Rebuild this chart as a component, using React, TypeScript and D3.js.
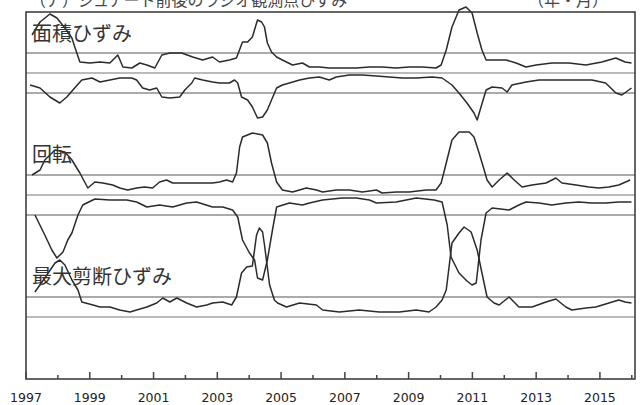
import React from "react";
import * as d3 from "d3";

// ---- data: [decimal year, value] (value unit = spacing of reference lines) ----
const areaUpper: [number, number][] = [
  [1997.19, 1.9], [1997.44, 2.55], [1997.75, 2.95], [1997.97, 2.75], [1998.22, 2.25], [1998.44, 1.75],
  [1998.53, 1.3], [1998.69, 0.55], [1999.0, 0.5], [1999.32, 0.55], [1999.63, 0.5], [1999.88, 0.9],
  [2000.04, 0.3], [2000.32, 0.25], [2000.57, 0.5], [2000.79, 0.4], [2001.04, 0.25], [2001.26, 0.9],
  [2001.51, 1.0], [2001.88, 1.0], [2002.23, 0.8], [2002.54, 0.65], [2002.85, 0.8], [2003.07, 0.55],
  [2003.38, 0.65], [2003.6, 0.75], [2003.79, 1.55], [2003.95, 1.55], [2004.1, 1.8], [2004.26, 2.65],
  [2004.39, 2.55], [2004.48, 2.3], [2004.57, 1.5], [2004.7, 1.05], [2004.86, 0.8], [2005.04, 0.65],
  [2005.36, 0.4], [2005.67, 0.5], [2005.89, 0.3], [2006.2, 0.3], [2006.51, 0.25], [2006.92, 0.25],
  [2007.36, 0.25], [2007.77, 0.3], [2008.17, 0.3], [2008.61, 0.25], [2009.02, 0.3], [2009.43, 0.3],
  [2009.86, 0.25], [2010.02, 0.4], [2010.18, 1.15], [2010.36, 2.3], [2010.58, 3.15], [2010.8, 3.3],
  [2010.99, 3.0], [2011.15, 2.0], [2011.3, 1.15], [2011.43, 0.65], [2011.74, 0.65], [2012.06, 0.65],
  [2012.37, 0.5], [2012.68, 0.3], [2013.0, 0.4], [2013.49, 0.5], [2014.03, 0.5], [2014.56, 0.4],
  [2015.06, 0.55], [2015.5, 0.75], [2015.79, 0.55], [2015.99, 0.5],
];

const areaLower: [number, number][] = [
  [1997.13, -0.6], [1997.44, -0.75], [1997.75, -1.2], [1998.06, -1.5], [1998.28, -1.2], [1998.47, -0.85],
  [1998.75, -0.35], [1999.07, -0.25], [1999.32, -0.45], [1999.63, -0.35], [1999.94, -0.25], [2000.32, -0.25],
  [2000.47, -0.35], [2000.66, -0.75], [2000.88, -0.85], [2001.1, -0.75], [2001.26, -1.2], [2001.51, -1.25],
  [2001.82, -1.2], [2001.98, -0.85], [2002.2, -0.5], [2002.29, -0.25], [2002.54, -0.35], [2002.85, -0.45],
  [2003.07, -0.5], [2003.38, -0.5], [2003.54, -0.35], [2003.64, -0.5], [2003.76, -1.2], [2003.95, -1.35],
  [2004.1, -1.7], [2004.26, -2.25], [2004.42, -2.2], [2004.57, -1.85], [2004.7, -1.35], [2004.86, -0.75],
  [2005.04, -0.6], [2005.26, -0.5], [2005.58, -0.35], [2005.89, -0.25], [2006.2, -0.2], [2006.51, -0.35],
  [2006.73, -0.2], [2007.14, -0.1], [2007.55, -0.1], [2007.99, -0.15], [2008.39, -0.2], [2008.8, -0.25],
  [2009.24, -0.25], [2009.74, -0.2], [2010.05, -0.25], [2010.36, -0.6], [2010.58, -1.0], [2010.83, -1.5],
  [2011.05, -2.0], [2011.15, -2.35], [2011.27, -1.7], [2011.43, -0.85], [2011.62, -0.7], [2011.93, -0.75],
  [2012.09, -0.95], [2012.24, -0.6], [2012.68, -0.45], [2013.09, -0.35], [2013.71, -0.35], [2014.34, -0.35],
  [2014.75, -0.35], [2015.18, -0.5], [2015.5, -1.0], [2015.69, -1.1], [2015.99, -0.75],
];

const rotUpper: [number, number][] = [
  [1997.19, 1.0], [1997.44, 1.25], [1997.59, 1.75], [1997.91, 2.25], [1998.22, 2.15], [1998.44, 1.75],
  [1998.69, 1.1], [1998.94, 0.35], [1999.16, 0.65], [1999.41, 0.6], [1999.72, 0.5], [1999.94, 0.35],
  [2000.19, 0.25], [2000.47, 0.35], [2000.72, 0.4], [2000.97, 0.35], [2001.19, 0.65], [2001.41, 0.75],
  [2001.6, 0.6], [2001.91, 0.6], [2002.23, 0.6], [2002.54, 0.6], [2002.85, 0.6], [2003.07, 0.65],
  [2003.29, 0.75], [2003.48, 0.65], [2003.6, 1.1], [2003.7, 2.4], [2003.79, 2.9], [2004.1, 3.1],
  [2004.42, 3.0], [2004.57, 2.6], [2004.7, 1.6], [2004.86, 0.65], [2005.04, 0.25], [2005.36, 0.15],
  [2005.79, 0.35], [2006.11, 0.25], [2006.3, 0.15], [2006.73, 0.25], [2007.14, 0.25], [2007.55, 0.15],
  [2007.99, 0.25], [2008.17, 0.1], [2008.61, 0.15], [2009.02, 0.15], [2009.55, 0.25], [2009.86, 0.25],
  [2010.02, 0.6], [2010.18, 1.6], [2010.36, 2.75], [2010.58, 3.15], [2010.9, 3.15], [2011.05, 2.9],
  [2011.21, 2.1], [2011.37, 1.25], [2011.46, 0.75], [2011.62, 0.4], [2011.84, 0.75], [2012.09, 1.1],
  [2012.31, 0.75], [2012.56, 0.4], [2012.87, 0.5], [2013.31, 0.6], [2013.62, 0.85], [2013.81, 0.6],
  [2014.25, 0.5], [2014.65, 0.4], [2014.97, 0.35], [2015.28, 0.4], [2015.59, 0.5], [2015.95, 0.75],
];

const rotLower: [number, number][] = [
  [1997.28, -1.0], [1997.59, -2.0], [1997.81, -2.75], [1997.97, -3.15], [1998.16, -2.85], [1998.31, -2.25],
  [1998.44, -1.9], [1998.63, -1.0], [1998.78, -0.5], [1999.16, -0.2], [1999.63, -0.25], [2000.16, -0.25],
  [2000.47, -0.35], [2000.79, -0.6], [2001.19, -0.5], [2001.6, -0.6], [2002.04, -0.4], [2002.35, -0.35],
  [2002.85, -0.6], [2003.17, -0.6], [2003.48, -0.75], [2003.64, -1.1], [2003.79, -2.25], [2004.01, -2.9],
  [2004.17, -3.25], [2004.26, -4.15], [2004.42, -4.25], [2004.57, -3.25], [2004.73, -1.75], [2004.86, -0.6],
  [2005.26, -0.4], [2005.67, -0.5], [2005.89, -0.4], [2006.3, -0.25], [2006.92, -0.15], [2007.36, -0.15],
  [2007.77, -0.25], [2007.99, -0.4], [2008.61, -0.35], [2009.24, -0.15], [2009.8, -0.25], [2010.05, -0.35],
  [2010.21, -1.5], [2010.33, -3.1], [2010.58, -3.9], [2010.83, -4.3], [2010.99, -4.5], [2011.12, -4.4],
  [2011.27, -2.25], [2011.43, -0.9], [2011.62, -0.65], [2012.15, -0.75], [2012.46, -0.5], [2012.68, -0.35],
  [2013.09, -0.4], [2013.49, -0.5], [2013.93, -0.4], [2014.34, -0.35], [2014.75, -0.4], [2015.18, -0.4],
  [2015.59, -0.35], [2015.99, -0.35],
];

const shearMax: [number, number][] = [
  [1997.28, 1.25], [1997.59, 1.95], [1997.91, 2.7], [1998.06, 2.85], [1998.22, 2.6], [1998.44, 1.85],
  [1998.63, 1.35], [1998.75, 0.75], [1999.1, 0.6], [1999.32, 0.5], [1999.63, 0.5], [1999.94, 0.35],
  [2000.26, 0.25], [2000.47, 0.35], [2000.79, 0.5], [2001.1, 0.7], [2001.29, 0.95], [2001.51, 0.75],
  [2001.73, 0.95], [2002.04, 0.7], [2002.35, 0.5], [2002.67, 0.6], [2002.85, 0.7], [2003.17, 0.75],
  [2003.45, 0.6], [2003.6, 1.0], [2003.76, 2.2], [2003.92, 2.5], [2004.1, 2.55], [2004.23, 4.1],
  [2004.32, 4.45], [2004.42, 4.25], [2004.48, 3.6], [2004.64, 1.6], [2004.79, 0.85], [2004.89, 0.7],
  [2005.17, 0.5], [2005.58, 0.7], [2006.11, 0.6], [2006.3, 0.35], [2006.83, 0.25], [2007.45, 0.35],
  [2008.08, 0.25], [2008.71, 0.25], [2009.24, 0.35], [2009.64, 0.25], [2009.86, 0.5], [2010.05, 0.85],
  [2010.18, 1.35], [2010.36, 3.7], [2010.58, 4.2], [2010.74, 4.5], [2010.96, 4.25], [2011.15, 3.35],
  [2011.3, 2.2], [2011.46, 1.0], [2011.68, 0.7], [2011.84, 0.6], [2012.15, 1.0], [2012.46, 0.5],
  [2012.87, 0.5], [2013.31, 0.75], [2013.62, 0.9], [2013.93, 0.5], [2014.12, 0.35], [2014.56, 0.45],
  [2014.87, 0.5], [2015.18, 0.65], [2015.59, 0.85], [2015.79, 0.75], [2015.99, 0.7],
];

const panelLabels = ["面積ひずみ", "回転", "最大剪断ひずみ"];
const tickYears = d3.range(1997, 2017);
const labelYears = d3.range(1997, 2016, 2);
const titleText = "（ア）ジュアート前後のラジオ観測点ひずみ";
const titleText2 = "（年・月）";

// ---- layout ----
const W = 640;
const H = 405;
const left = 26;
const right = 635;
const top = 12;
const bottom = 379;
const panelCenters = [73, 195, 317];
const unitPx = 20;

const x = d3.scaleLinear().domain([1997, 2016.1]).range([left, right]);
const yScales = panelCenters.map((c) =>
  d3.scaleLinear().domain([-1, 1]).range([c + unitPx, c - unitPx])
);

const panelSeries: [number, number][][][] = [
  [areaUpper, areaLower],
  [rotUpper, rotLower],
  [shearMax],
];
const panelRefLines = [
  [1, 0, -1],
  [1, 0, -1],
  [1, 0],
];

export default function App() {
  return (
    <svg
      width={W}
      height={H}
      style={{ position: "absolute", left: 0, top: 0, background: "#fff" }}
      fontFamily="'Noto Sans CJK JP', 'DejaVu Sans', sans-serif"
    >
      <rect x={0} y={0} width={W} height={H} fill="#fff" />
      {/* cut-off title */}
      <text x={30} y={6} fontSize={16} fill="#444">{titleText}</text>
      <text x={528} y={6} fontSize={16} fill="#444">{titleText2}</text>

      {/* reference lines */}
      {panelRefLines.map((vals, pi) =>
        vals.map((v) => (
          <line
            key={`r${pi}-${v}`}
            x1={left}
            x2={right}
            y1={yScales[pi](v)}
            y2={yScales[pi](v)}
            stroke={v === 0 ? "#777" : "#aaa"}
            strokeWidth={v === 0 ? 1.2 : 2}
          />
        ))
      )}

      {/* traces */}
      {panelSeries.map((list, pi) => {
        const line = d3
          .line<[number, number]>()
          .x((d) => x(d[0]))
          .y((d) => yScales[pi](d[1]));
        return list.map((s, si) => (
          <path
            key={`s${pi}-${si}`}
            d={line(s) || ""}
            fill="none"
            stroke="#2b2b2b"
            strokeWidth={1.5}
            strokeLinejoin="round"
          />
        ));
      })}

      {/* panel labels */}
      {panelLabels.map((t, i) => (
        <text
          key={t}
          x={32}
          y={[41, 162, 284][i]}
          fontSize={20}
          fill="#333"
        >
          {t}
        </text>
      ))}

      {/* frame */}
      <rect
        x={left}
        y={top}
        width={right - left}
        height={bottom - top}
        fill="none"
        stroke="#333"
        strokeWidth={1.5}
      />

      {/* ticks */}
      {tickYears.map((yr) => (
        <line
          key={`t${yr}`}
          x1={x(yr)}
          x2={x(yr)}
          y1={bottom}
          y2={bottom - (yr % 2 === 1 ? 7 : 4)}
          stroke="#444"
          strokeWidth={1.5}
        />
      ))}
      {labelYears.map((yr) => (
        <text
          key={`l${yr}`}
          x={x(yr)}
          y={402}
          textAnchor="middle"
          fontSize={12.5}
          fontFamily="'DejaVu Sans', sans-serif"
          fill="#222"
        >
          {yr}
        </text>
      ))}
    </svg>
  );
}
